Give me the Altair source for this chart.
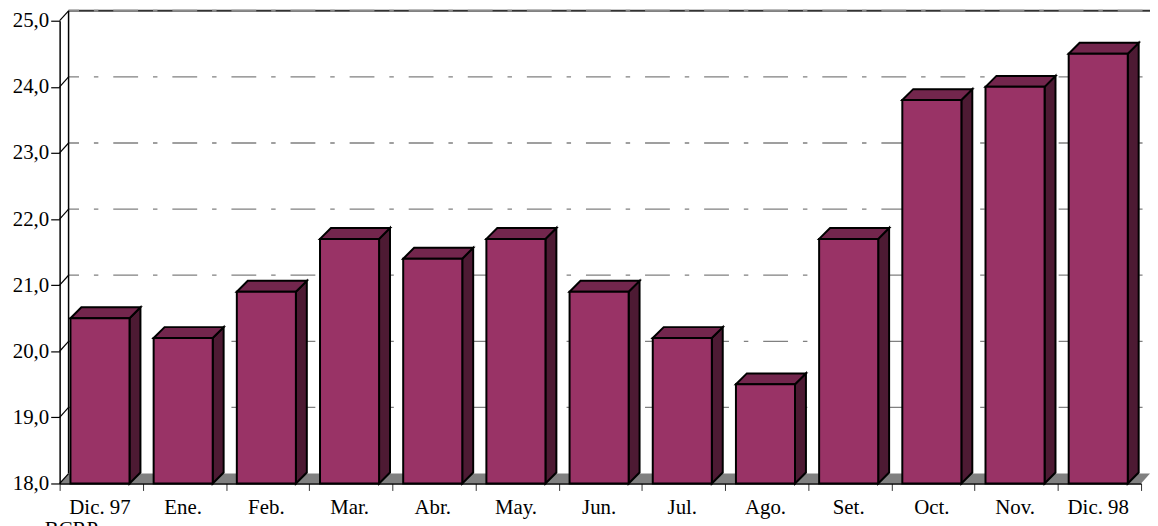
import altair as alt
import pandas as pd

# ---- data ----
months = ["Dic. 97", "Ene.", "Feb.", "Mar.", "Abr.", "May.", "Jun.", "Jul.",
          "Ago.", "Set.", "Oct.", "Nov.", "Dic. 98"]
values = [20.5, 20.2, 20.9, 21.7, 21.4, 21.7, 20.9, 20.2, 19.5, 21.7, 23.8, 24.0, 24.5]
y_ticks = [18, 19, 20, 21, 22, 23, 24, 25]
grid_values = [19, 20, 21, 22, 23, 24]
source_note = "BCRP"

# ---- layout / style constants ----
W, H = 1089, 466
N = len(months)
Y_MIN, Y_MAX = 18, 25
PX_X = W / N
PX_Y = H / (Y_MAX - Y_MIN)
BAR_L, BAR_R = 0.13, 0.84          # bar front face within category (units)
BDX, BDY = 11 / PX_X, 11 / PX_Y     # bar depth
WDX, WDY = 9 / PX_X, 10 / PX_Y      # wall depth
FRONT = "#993366"
TOP = "#73264D"
SIDE = "#4D1A33"
FONT = "Liberation Serif"

xscale = alt.Scale(domain=[0, N], nice=False, zero=False)
yscale = alt.Scale(domain=[Y_MIN, Y_MAX], nice=False, zero=False)
xaxis = alt.Axis(values=list(range(N + 1)), labels=False, tickSize=7, tickColor="#333333",
                 domainColor="black", domainWidth=1.5, grid=False, title=None, zindex=1)
yaxis = alt.Axis(values=y_ticks, tickSize=9, tickColor="black", tickWidth=1.2,
                 domainColor="black", domainWidth=1.5, grid=False, title=None,
                 labelFont=FONT, labelFontSize=21, labelColor="black", labelPadding=2,
                 labelExpr="replace(format(datum.value, '.1f'), '.', ',')", zindex=1)


def X(f):
    return alt.X(f, type="quantitative", scale=xscale, axis=xaxis)


def Y(f):
    return alt.Y(f, type="quantitative", scale=yscale, axis=yaxis, stack=None)


# ---- tables ----
bars = pd.DataFrame({"month": months, "i": range(N), "value": values})
bars["x0"] = bars["i"] + BAR_L
bars["x1"] = bars["i"] + BAR_R
bars["xc"] = bars["i"] + (BAR_L + BAR_R) / 2
bars["base"] = Y_MIN

top_rows, side_rows = [], []
for m, i, v in zip(months, range(N), values):
    x0, x1 = i + BAR_L, i + BAR_R
    top_rows += [
        {"month": m, "px": x0, "py": v, "py2": v},
        {"month": m, "px": x0 + BDX, "py": v + BDY, "py2": v},
        {"month": m, "px": x1, "py": v + BDY, "py2": v},
        {"month": m, "px": x1 + BDX, "py": v + BDY, "py2": v + BDY},
    ]
    side_rows += [
        {"month": m, "px": x1, "py": v, "py2": Y_MIN},
        {"month": m, "px": x1 + BDX, "py": v + BDY, "py2": Y_MIN + BDY},
    ]
top_df = pd.DataFrame(top_rows)
side_df = pd.DataFrame(side_rows)

floor_df = pd.DataFrame({
    "px": [0, WDX, N, N + WDX],
    "py": [Y_MIN, Y_MIN + WDY, Y_MIN + WDY, Y_MIN + WDY],
    "py2": [Y_MIN, Y_MIN, Y_MIN, Y_MIN + WDY],
})

grid_df = pd.DataFrame({"v": grid_values})
grid_df["yb"] = grid_df["v"] + WDY
grid_df["xa"] = WDX
grid_df["xb"] = N + WDX

top_df_border = pd.DataFrame({"yb": [Y_MAX + WDY], "xa": [WDX], "xb": [N + WDX]})

diag_df = pd.DataFrame({"v": y_ticks})
diag_df["vb"] = diag_df["v"] + WDY
diag_df["xa"] = 0.0
diag_df["xb"] = WDX

wall_df = pd.DataFrame({"xa": [WDX], "ya": [Y_MIN + WDY], "yb": [Y_MAX + WDY]})

# ---- layers ----
floor = alt.Chart(floor_df).mark_area(orient="vertical", color="#808080").encode(
    x=X("px"), y=Y("py"), y2="py2")

grid = alt.Chart(grid_df).mark_rule(color="#808080", strokeWidth=1.3,
                                    strokeDash=[25, 15, 4.5, 15], strokeDashOffset=14.5).encode(
    x=X("xa"), x2="xb", y=Y("yb"))

border_solid = alt.Chart(top_df_border).mark_rule(color="#333333", strokeWidth=2).encode(
    x=X("xa"), x2="xb", y=Y("yb"))
border_dash = alt.Chart(top_df_border).mark_rule(color="#8a8a8a", strokeWidth=2,
                                                 strokeDash=[25, 15, 4.5, 15],
                                                 strokeDashOffset=14.5).encode(
    x=X("xa"), x2="xb", y=Y("yb"))

diag = alt.Chart(diag_df).mark_rule(color="black", strokeWidth=1.2).encode(
    x=X("xa"), x2="xb", y=Y("v"), y2="vb")

wall = alt.Chart(wall_df).mark_rule(color="black", strokeWidth=1.5).encode(
    x=X("xa"), y=Y("ya"), y2="yb")

side = alt.Chart(side_df).mark_area(orient="vertical", color=SIDE, stroke="black",
                                    strokeWidth=2, strokeJoin="miter").encode(
    x=X("px"), y=Y("py"), y2="py2", detail="month:N")

top = alt.Chart(top_df).mark_area(orient="vertical", color=TOP, stroke="black",
                                  strokeWidth=2, strokeJoin="miter").encode(
    x=X("px"), y=Y("py"), y2="py2", detail="month:N")

front = alt.Chart(bars).mark_rect(color=FRONT, stroke="black", strokeWidth=2,
                                  strokeJoin="miter").encode(
    x=X("x0"), x2="x1", y=Y("base"), y2="value")

labels = alt.Chart(bars).mark_text(font=FONT, fontSize=21, color="black", dy=31,
                                   baseline="alphabetic", align="center").encode(
    x=X("xc"), y=Y("base"), text="month:N")

note = alt.Chart(pd.DataFrame({"t": [source_note], "x": [0], "y": [Y_MIN]})).mark_text(
    font=FONT, fontSize=21, color="black", dx=-15, dy=53, align="left",
    baseline="alphabetic").encode(x=X("x"), y=Y("y"), text="t:N")

chart = alt.layer(floor, grid, border_solid, border_dash, wall, diag,
                  side, top, front, labels, note).properties(
    width=W, height=H,
    autosize=alt.AutoSizeParams(type="none"),
    padding={"left": 52, "top": 11, "right": 9, "bottom": 41},
    background="white",
).configure_view(stroke=None)

chart.save("out.html", embed_options={"renderer": "svg", "actions": False})
